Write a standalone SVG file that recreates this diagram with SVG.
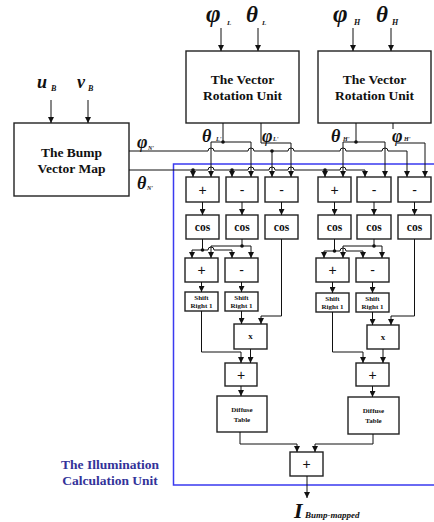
<svg xmlns="http://www.w3.org/2000/svg" width="434" height="522" viewBox="0 0 434 522">
<style>
.box{fill:#fff;stroke:#222;stroke-width:1.4}
.w{fill:none;stroke:#111;stroke-width:1}
.wa{fill:none;stroke:#111;stroke-width:1;marker-end:url(#ah)}
.t{font-family:"Liberation Serif",serif;font-weight:bold;text-anchor:middle;fill:#111}
.g{font-family:"Liberation Serif",serif;font-weight:bold;font-style:italic;fill:#111}
.s{font-family:"Liberation Serif",serif;font-weight:bold;font-style:italic;fill:#111}
.op{font-family:"Liberation Sans",sans-serif;text-anchor:middle;fill:#111;font-size:14px}
.dot{fill:#111}
</style>
<defs>
<marker id="ah" viewBox="0 0 10 10" refX="10" refY="5" markerWidth="6" markerHeight="6" markerUnits="userSpaceOnUse" orient="auto">
<path d="M0,0 L10,5 L0,10 Z" fill="#111"/>
</marker>
</defs>

<g id="illumination-unit">
<path d="M440,164 L173.5,164 L173.5,485 L440,485" fill="none" stroke="#3a3af0" stroke-width="1.5"/>
<text x="110" y="469" class="t" style="font-size:13.5px;fill:#333399">The Illumination</text>
<text x="110" y="485" class="t" style="font-size:13.5px;fill:#333399">Calculation Unit</text>
</g>

<g id="bump-map">
<rect x="14" y="123" width="115" height="73" class="box"/>
<text x="71.5" y="157" class="t" style="font-size:13.5px">The Bump</text>
<text x="71.5" y="173" class="t" style="font-size:13.5px">Vector Map</text>
</g>
<g id="vru-l">
<rect x="186" y="51" width="113" height="72" class="box"/>
<text x="242.5" y="84" class="t" style="font-size:13.5px">The Vector</text>
<text x="242.5" y="100" class="t" style="font-size:13.5px">Rotation Unit</text>
</g>
<g id="vru-h">
<rect x="318" y="51" width="113" height="72" class="box"/>
<text x="374.5" y="84" class="t" style="font-size:13.5px">The Vector</text>
<text x="374.5" y="100" class="t" style="font-size:13.5px">Rotation Unit</text>
</g>

<g id="row1">
<rect x="186" y="177" width="33" height="25" class="box"/><text x="202.5" y="194.5" class="op">+</text>
<rect x="226" y="177" width="32" height="25" class="box"/><text x="242" y="194.5" class="op">-</text>
<rect x="265" y="177" width="33" height="25" class="box"/><text x="281.5" y="194.5" class="op">-</text>
<rect x="318" y="177" width="33" height="25" class="box"/><text x="334.5" y="194.5" class="op">+</text>
<rect x="357" y="177" width="34" height="25" class="box"/><text x="374" y="194.5" class="op">-</text>
<rect x="398" y="177" width="33" height="25" class="box"/><text x="414.5" y="194.5" class="op">-</text>
</g>
<g id="cos-row">
<rect x="186" y="215" width="33" height="24" class="box"/><text x="202.5" y="231" class="t" style="font-size:11.5px">cos</text>
<rect x="226" y="215" width="32" height="24" class="box"/><text x="242" y="231" class="t" style="font-size:11.5px">cos</text>
<rect x="265" y="215" width="33" height="24" class="box"/><text x="281.5" y="231" class="t" style="font-size:11.5px">cos</text>
<rect x="318" y="215" width="33" height="24" class="box"/><text x="334.5" y="231" class="t" style="font-size:11.5px">cos</text>
<rect x="357" y="215" width="34" height="24" class="box"/><text x="374" y="231" class="t" style="font-size:11.5px">cos</text>
<rect x="398" y="215" width="33" height="24" class="box"/><text x="414.5" y="231" class="t" style="font-size:11.5px">cos</text>
</g>
<g id="row3">
<rect x="185" y="258" width="33" height="24" class="box"/><text x="201.5" y="275" class="op">+</text>
<rect x="225" y="258" width="33" height="24" class="box"/><text x="241.5" y="275" class="op">-</text>
<rect x="316" y="258" width="33" height="24" class="box"/><text x="332.5" y="275" class="op">+</text>
<rect x="356" y="258" width="33" height="24" class="box"/><text x="372.5" y="275" class="op">-</text>
</g>
<g id="shift">
<rect x="185" y="292" width="33" height="19" class="box"/><text x="201.5" y="300" class="t" style="font-size:7px">Shift</text><text x="201.5" y="308" class="t" style="font-size:7px">Right 1</text>
<rect x="225" y="292" width="33" height="19" class="box"/><text x="241.5" y="300" class="t" style="font-size:7px">Shift</text><text x="241.5" y="308" class="t" style="font-size:7px">Right 1</text>
<rect x="316" y="293" width="33" height="19" class="box"/><text x="332.5" y="301" class="t" style="font-size:7px">Shift</text><text x="332.5" y="309" class="t" style="font-size:7px">Right 1</text>
<rect x="356" y="293" width="33" height="19" class="box"/><text x="372.5" y="301" class="t" style="font-size:7px">Shift</text><text x="372.5" y="309" class="t" style="font-size:7px">Right 1</text>
</g>
<g id="mult">
<rect x="234" y="324" width="33" height="25" class="box"/><text x="250.5" y="339" class="t" style="font-size:9px">x</text>
<rect x="367" y="325" width="32" height="24" class="box"/><text x="383" y="340" class="t" style="font-size:9px">x</text>
</g>
<g id="add2">
<rect x="225" y="363" width="32" height="23" class="box"/><text x="241" y="379.5" class="op">+</text>
<rect x="356" y="363" width="33" height="23" class="box"/><text x="372.5" y="379.5" class="op">+</text>
</g>
<g id="diffuse">
<rect x="217" y="396" width="50" height="36" class="box"/><text x="242" y="412" class="t" style="font-size:7px">Diffuse</text><text x="242" y="422" class="t" style="font-size:7px">Table</text>
<rect x="348" y="397" width="51" height="37" class="box"/><text x="373.5" y="413" class="t" style="font-size:7px">Diffuse</text><text x="373.5" y="423" class="t" style="font-size:7px">Table</text>
</g>
<g id="final-add">
<rect x="290" y="452" width="33" height="24" class="box"/><text x="306.5" y="469" class="op">+</text>
</g>

<g id="labels">
<text x="206" y="22" class="g" style="font-size:25px">φ</text><text x="227" y="25" class="s" style="font-size:7px">L</text>
<text x="246" y="22" class="g" style="font-size:23px">θ</text><text x="262" y="25" class="s" style="font-size:7px">L</text>
<text x="333" y="22" class="g" style="font-size:25px">φ</text><text x="354" y="25" class="s" style="font-size:8px">H</text>
<text x="376" y="22" class="g" style="font-size:23px">θ</text><text x="392" y="25" class="s" style="font-size:8px">H</text>
<text x="37" y="88" class="g" style="font-size:18px">u</text><text x="51" y="91" class="s" style="font-size:8px">B</text>
<text x="77" y="88" class="g" style="font-size:18px">v</text><text x="88" y="91" class="s" style="font-size:8px">B</text>
<text x="137" y="148" class="g" style="font-size:18px">φ</text><text x="148" y="150" class="s" style="font-size:6px">N'</text>
<text x="137" y="189" class="g" style="font-size:18px">θ</text><text x="147" y="190" class="s" style="font-size:6px">N'</text>
<text x="202" y="142" class="g" style="font-size:18px">θ</text><text x="216" y="141" class="s" style="font-size:6px">L'</text>
<text x="262" y="142" class="g" style="font-size:18px">φ</text><text x="273" y="141" class="s" style="font-size:6px">L'</text>
<text x="331" y="142" class="g" style="font-size:18px">θ</text><text x="343" y="141" class="s" style="font-size:6px">H'</text>
<text x="392" y="142" class="g" style="font-size:18px">φ</text><text x="404" y="141" class="s" style="font-size:6px">H'</text>
<text x="294" y="518" class="g" style="font-size:22px">I</text><text x="305" y="518" class="s" style="font-size:9px">Bump-mapped</text>
</g>

<g id="connectors">
<path class="wa" d="M221,28 V51"/><path class="wa" d="M258,28 V51"/>
<path class="wa" d="M353,28 V51"/><path class="wa" d="M391,28 V51"/>
<path class="wa" d="M51,100 V123"/><path class="wa" d="M88,100 V123"/>
<path class="w" d="M129,151 H208 A3,3 0 0 1 214,151 H248 A3,3 0 0 1 254,151 H288 A3,3 0 0 1 294,151 H340 A3,3 0 0 1 346,151 H382 A3,3 0 0 1 388,151 H407"/>
<path class="wa" d="M407,151 V177"/>
<path class="w" d="M129,170 H208 A3,3 0 0 1 214,170 H248 A3,3 0 0 1 254,170 H269 A3,3 0 0 1 275,170 H288 A3,3 0 0 1 294,170 H340 A3,3 0 0 1 346,170 H365"/>
<path class="wa" d="M365,170 V177"/>
<path class="wa" d="M193,170 V177"/><path class="wa" d="M232,170 V177"/><path class="wa" d="M325,170 V177"/>
<path class="wa" d="M272,151 V177"/>
<path class="w" d="M223,123 V142 M211,142 H251"/>
<path class="wa" d="M211,142 V177"/><path class="wa" d="M251,142 V177"/>
<path class="w" d="M261,123 V143 H291"/>
<path class="wa" d="M291,143 V177"/>
<path class="w" d="M356,123 V142 M343,142 H385"/>
<path class="wa" d="M343,142 V177"/><path class="wa" d="M385,142 V177"/>
<path class="w" d="M393,123 V129 M397,143 H425"/>
<path class="wa" d="M425,143 V177"/>
<path class="wa" d="M202.5,202 V215"/><path class="wa" d="M242,202 V215"/><path class="wa" d="M281.5,202 V215"/>
<path class="wa" d="M334.5,202 V215"/><path class="wa" d="M374,202 V215"/><path class="wa" d="M414.5,202 V215"/>
<path class="w" d="M202.5,239 V250 M192,250 H208 A3,3 0 0 1 214,250 H232 M242,239 V246 M211,246 H251"/>
<path class="wa" d="M192,250 V258"/><path class="wa" d="M232,250 V258"/>
<path class="wa" d="M211,246 V258"/><path class="wa" d="M251,246 V258"/>
<path class="w" d="M334.5,239 V251 M324,251 H340 A3,3 0 0 1 346,251 H363 M374,239 V246 M343,246 H382"/>
<path class="wa" d="M324,251 V258"/><path class="wa" d="M363,251 V258"/>
<path class="wa" d="M343,246 V258"/><path class="wa" d="M382,246 V258"/>
<path class="wa" d="M201.5,282 V292"/><path class="wa" d="M241.5,282 V292"/>
<path class="wa" d="M332.5,282 V293"/><path class="wa" d="M372.5,282 V293"/>
<path class="wa" d="M241.5,311 V324"/><path class="wa" d="M281.5,239 V316 H261 V324"/>
<path class="wa" d="M372.5,312 V325"/><path class="wa" d="M414.5,239 V316 H391 V325"/>
<path class="wa" d="M201.5,311 V352 H241 V363"/><path class="wa" d="M250.5,349 V363"/>
<path class="wa" d="M332.5,312 V352 H363 V363"/><path class="wa" d="M383,349 V363"/>
<path class="wa" d="M241,386 V396"/><path class="wa" d="M372.5,386 V397"/>
<path class="wa" d="M240,432 V444 H297 V452"/><path class="wa" d="M373,434 V444 H315 V452"/>
<path class="wa" d="M307,476 V498"/>
<circle class="dot" cx="223" cy="142" r="1.8"/><circle class="dot" cx="356" cy="142" r="1.8"/>
<circle class="dot" cx="272" cy="151" r="1.8"/>
<circle class="dot" cx="193" cy="170" r="1.8"/><circle class="dot" cx="232" cy="170" r="1.8"/><circle class="dot" cx="325" cy="170" r="1.8"/>
<circle class="dot" cx="202.5" cy="250" r="1.8"/><circle class="dot" cx="242" cy="246" r="1.8"/>
<circle class="dot" cx="334.5" cy="251" r="1.8"/><circle class="dot" cx="374" cy="246" r="1.8"/>
</g>
</svg>
